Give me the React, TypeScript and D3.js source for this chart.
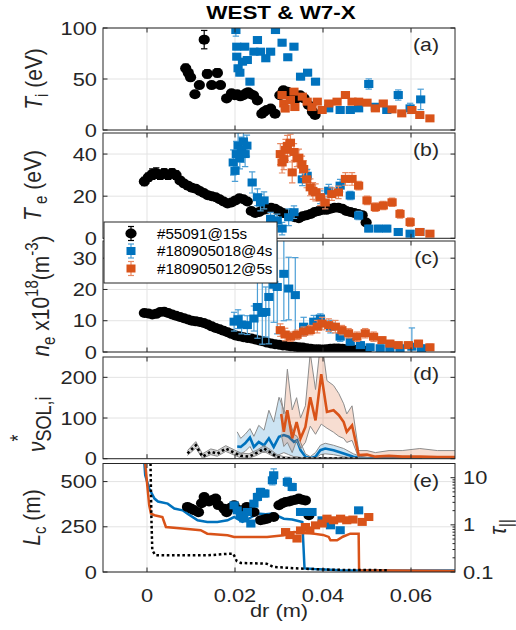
import React from 'react';
import * as d3 from 'd3';

const FONT = "'Liberation Sans', Arial, Helvetica, sans-serif";
const INK = '#262626';
const BLUE = '#0072BD';
const ORANGE = '#D95319';
const GRID = '#e3e3e3';
const S = 1.18; // horizontal text stretch seen in the reference

// ---------- ticks / labels ----------
const xTicks = [0, 0.02, 0.04, 0.06];
const xTickLabels = ['0', '0.02', '0.04', '0.06'];
const tiTicks = [0, 50, 100];
const teTicks = [0, 20, 40];
const neTicks = [0, 10, 20, 30];
const nuTicks = [0, 100, 200];
const lcTicks = [0, 250, 500];
const tauTicks = [0.1, 1, 10];
const tauTickLabels = ['0.1', '1', '10'];
const tauMinor = [0.2, 0.3, 0.4, 0.5, 0.6, 0.7, 0.8, 0.9, 2, 3, 4, 5, 6, 7, 8, 9, 20];
const legendLabels = ['#55091@15s', '#180905018@4s', '#180905012@5s'];
const panelLetters = ['(a)', '(b)', '(c)', '(d)', '(e)'];

// ---------- (a) Ti ----------
const westTi = [
  [0.0088, 60.5, 4], [0.0094, 56, 2], [0.0099, 51.6, 2], [0.0109, 35, 2], [0.0119, 44, 2], [0.0130, 88.6, 9],
  [0.0137, 55, 4], [0.0147, 44, 3], [0.0160, 56, 4], [0.0167, 44, 2], [0.0181, 31, 2], [0.0192, 36, 2],
  [0.0199, 34, 2], [0.0205, 35, 2], [0.0212, 33, 2], [0.0219, 34, 2], [0.0225, 36, 2], [0.0230, 37, 2],
  [0.0236, 35, 2], [0.0242, 34, 2], [0.0251, 29, 2], [0.0261, 16, 2], [0.0266, 18, 2], [0.0272, 19.6, 2],
  [0.0281, 21, 2], [0.0291, 16, 2], [0.0302, 34, 2], [0.0310, 39, 2], [0.0319, 37.6, 2], [0.0329, 32.7, 2],
  [0.0340, 31, 2], [0.0348, 34, 2], [0.0357, 31, 2], [0.0367, 24.5, 2], [0.0376, 18, 2], [0.0382, 14.7, 2],
];
const w7x18Ti = [
  [0.0202, 98, 6], [0.0204, 81.7, 3], [0.0204, 71.9, 3], [0.0207, 60.5, 3], [0.0211, 56.2, 3], [0.0217, 67, 3],
  [0.0222, 81.7, 3], [0.0228, 68.6, 3], [0.0234, 47.4, 3], [0.0243, 76.8, 3], [0.0251, 88.2, 3], [0.0258, 76.8, 3],
  [0.0270, 70.3, 3], [0.0281, 76.8, 3], [0.0292, 98, 3], [0.0307, 85.6, 3], [0.0320, 71.3, 3], [0.0334, 81.7, 3],
  [0.0349, 52.3, 3], [0.0365, 56.2, 3], [0.0383, 47.4, 3], [0.0413, 21.2, 2], [0.0439, 19.6, 2], [0.0462, 19.6, 2],
  [0.0481, 21.2, 2], [0.0504, 45.1, 5], [0.0519, 22.8, 2], [0.0545, 19.6, 2], [0.0571, 34.3, 5], [0.0598, 21.2, 5],
  [0.0622, 30, 10],
];
const w7x12Ti = [
  [0.0307, 34.3, 2], [0.0311, 26, 2], [0.0314, 21, 2], [0.0326, 29.4, 2], [0.0334, 37.6, 2], [0.0336, 22.5, 2],
  [0.0353, 32.7, 2], [0.0364, 27.8, 2], [0.0375, 22.5, 2], [0.0387, 27.8, 2], [0.0398, 19.6, 2], [0.0413, 26, 2],
  [0.0432, 27.8, 2], [0.0451, 34.3, 2], [0.0466, 27.8, 2], [0.0481, 27.8, 2], [0.0500, 26.8, 2], [0.0519, 21.2, 2],
  [0.0537, 26, 2], [0.0557, 20.2, 2], [0.0579, 16.3, 2], [0.0602, 19.6, 2], [0.0620, 14.7, 2], [0.0643, 11.4, 1],
];

// ---------- (b) Te ----------
const westX = [
  -0.0006, 0.0003, 0.0012, 0.0021, 0.0030, 0.0039, 0.0048, 0.0057, 0.0066, 0.0075, 0.0084, 0.0093, 0.0102, 0.0111,
  0.0120, 0.0129, 0.0138, 0.0147, 0.0156, 0.0165, 0.0174, 0.0183, 0.0192, 0.0201, 0.0210, 0.0219, 0.0228, 0.0237,
  0.0246, 0.0255, 0.0264, 0.0273, 0.0282, 0.0291, 0.0300, 0.0309, 0.0318, 0.0327, 0.0336, 0.0345, 0.0354, 0.0363,
  0.0372, 0.0381, 0.0390, 0.0399, 0.0408, 0.0417, 0.0426, 0.0435, 0.0444, 0.0453, 0.0462, 0.0471, 0.0480, 0.0489,
  0.0498,
];
const westTe = [
  27, 29, 30.5, 31, 30, 31, 30, 31, 30, 27.5, 26, 25, 24, 23.5, 22.5, 21.5, 20.5, 20, 19.5, 18.5, 17.5, 16.5, 17, 18,
  19, 18.5, 17.5, 13, 12, 12.5, 13.5, 14, 14.5, 14, 13, 12, 11.5, 11, 10, 9.5, 10.5, 11, 11.5, 12.5, 13, 13.5, 13.5,
  14, 14.5, 14.5, 14, 13, 12.5, 12, 11.5, 11, 7.5,
];
const westTeErr = [
  2, 2, 2.5, 2.5, 2, 2, 2, 2, 2, 1.5, 1.5, 1.5, 1, 1, 1, 1, 1, 1, 1, 1, 1, 1, 1, 1, 1, 1, 1, 1, 1, 1, 1, 1, 1, 1, 1,
  1, 1, 1, 1, 1, 1, 1, 1, 1, 1, 1, 1, 1, 1, 1, 1, 1, 1, 1, 1, 1, 1,
];
const w7x18Te = [
  [0.0196, 36, 6], [0.0200, 32, 5], [0.0203, 40, 6], [0.0207, 44, 6], [0.0211, 38, 5], [0.0215, 42, 6],
  [0.0219, 46, 5], [0.0223, 40, 6], [0.0227, 44, 5], [0.0239, 26.5, 5], [0.0251, 19.5, 4], [0.0258, 17, 4],
  [0.0266, 18, 4], [0.0281, 9.3, 3], [0.0296, 8.5, 3], [0.0307, 4.6, 3], [0.0322, 10, 4], [0.0334, 12.4, 3],
  [0.0353, 28, 3], [0.0364, 29.7, 3], [0.0394, 19.5, 3], [0.0413, 22.6, 3], [0.0439, 25, 3], [0.0462, 20.3, 2],
  [0.0481, 10.8, 2], [0.0504, 4.6, 1.5], [0.0526, 4.6, 1.5], [0.0545, 4.6, 1.5], [0.0571, 3, 1.5], [0.0598, 2.2, 1],
  [0.0620, 3, 1],
];
const w7x12Te = [
  [0.0303, 40, 5], [0.0307, 36, 5], [0.0311, 37.6, 5], [0.0315, 42, 5], [0.0319, 43.9, 5], [0.0326, 45.4, 4],
  [0.0330, 31.3, 5], [0.0334, 41, 4], [0.0341, 38, 4], [0.0345, 38.3, 4], [0.0352, 35, 4], [0.0356, 32.9, 4],
  [0.0363, 28, 4], [0.0371, 24.2, 4], [0.0377, 22.5, 4], [0.0383, 21.8, 4], [0.0394, 19.5, 4], [0.0405, 17, 3],
  [0.0420, 21, 3], [0.0435, 21.8, 3], [0.0451, 28.2, 3], [0.0466, 28.2, 3], [0.0481, 25, 2], [0.0500, 18, 2],
  [0.0519, 14.8, 2], [0.0537, 15.6, 2], [0.0557, 17.1, 2], [0.0575, 11.6, 2], [0.0598, 7.7, 2], [0.0620, 3, 1],
  [0.0643, 2.2, 1],
];

// ---------- (c) ne ----------
const westNe = [
  12.5, 12.3, 12.0, 12.2, 12.8, 12.9, 12.5, 12.0, 11.6, 11.2, 10.8, 10.4, 10.0, 9.8, 9.6, 9.3, 8.8, 8.2, 7.7, 7.3,
  6.8, 6.3, 5.8, 5.3, 5.0, 4.7, 4.5, 4.3, 4.0, 3.7, 3.4, 3.0, 2.7, 2.5, 2.3, 2.1, 2.0, 1.8, 1.7, 1.5, 1.4, 1.2, 1.0,
  0.9, 0.9, 0.8, 0.9, 1.0, 1.1, 1.1, 1.0, 0.9, 0.8, 0.7, 0.6, 0.5, 0.4,
];
const w7x18Ne = [
  [0.0198, 9.7, 3], [0.0207, 10.5, 3], [0.0215, 8.8, 3], [0.0228, 8.6, 3], [0.0243, 10.7, 4], [0.0251, 14.4, 10],
  [0.0262, 12.5, 10], [0.0270, 12.8, 8], [0.0277, 17.6, 15], [0.0288, 21.5, 12], [0.0296, 20.8, 15], [0.0311, 25, 15],
  [0.0322, 20.3, 10], [0.0337, 18.2, 12], [0.0356, 8.1, 3], [0.0379, 9.7, 2], [0.0394, 10.7, 1.5], [0.0417, 8.1, 2],
  [0.0439, 4.9, 1.5], [0.0462, 3.3, 1], [0.0485, 2.2, 1], [0.0507, 1.5, 1], [0.0530, 1.2, 1], [0.0552, 1.2, 1],
  [0.0575, 1.2, 1], [0.0602, 1.7, 6], [0.0624, 1.2, 1],
];
const w7x12Ne = [
  [0.0303, 7, 2], [0.0314, 5.6, 2], [0.0326, 4.9, 1.5], [0.0341, 5.5, 1.5], [0.0356, 6.5, 1.5], [0.0371, 7, 1.5],
  [0.0387, 8.1, 2], [0.0398, 9.1, 2], [0.0413, 8.6, 2], [0.0428, 8.1, 2], [0.0443, 7, 1.5], [0.0458, 6, 1.5],
  [0.0477, 4.9, 1.5], [0.0496, 6, 1.5], [0.0515, 4.9, 1.5], [0.0534, 3.8, 1], [0.0552, 2.7, 1], [0.0571, 2.2, 1],
  [0.0594, 2.2, 1], [0.0617, 2.7, 1], [0.0643, 1.5, 1],
];

// ---------- (d) collisionality ----------
const nuWestX = [0.0092, 0.0111, 0.0126, 0.0145, 0.0160, 0.0179, 0.0198, 0.0213, 0.0232, 0.0251, 0.0266, 0.0281, 0.0296, 0.0311, 0.0330, 0.0360, 0.0400, 0.0440, 0.0480];
const nuWest = [13, 33, 5, 17, 12, 25, 15, 7, 5, 15, 25, 15, 4, 1, 0.5, 0.5, 0.5, 0.5, 0.5];
const nuWestHi = [20, 42, 12, 24, 20, 32, 22, 14, 12, 22, 32, 22, 10, 5, 3, 3, 3, 3, 3];
const nuWestLo = [8, 26, 1, 10, 6, 18, 9, 2, 1, 9, 18, 9, 1, 0, 0, 0, 0, 0, 0];
const nu18X = [0.0205, 0.0213, 0.0223, 0.0234, 0.0243, 0.0254, 0.0266, 0.0277, 0.0288, 0.0300, 0.0311, 0.0322, 0.0334, 0.0341, 0.0349, 0.0360, 0.0371, 0.0383, 0.0394, 0.0405, 0.0424, 0.0447, 0.0469, 0.0485, 0.0500, 0.0550, 0.0600, 0.0625];
const nu18 = [30, 29, 38, 52, 29, 41, 33, 50, 29, 54, 58, 54, 41, 45, 21, 5, 1, 5, 21, 25, 21, 13, 5, 2, 1, 1, 1, 1];
const nu18Hi = [66, 50, 60, 74, 55, 82, 70, 119, 90, 151, 120, 100, 60, 55, 40, 12, 5, 15, 33, 38, 33, 25, 12, 6, 3, 3, 3, 3];
const nu18Lo = [10, 12, 18, 30, 12, 20, 15, 20, 5, 10, 15, 10, 5, 5, 3, 1, 0, 1, 10, 12, 10, 5, 1, 0, 0, 0, 0, 0];
const nu12X = [0.0305, 0.0311, 0.0319, 0.0330, 0.0340, 0.0349, 0.0360, 0.0371, 0.0383, 0.0396, 0.0409, 0.0424, 0.0436, 0.0447, 0.0454, 0.0466, 0.0481, 0.0500, 0.0519, 0.0550, 0.0580, 0.0620, 0.0660, 0.0700];
const nu12 = [110, 66, 119, 50, 90, 50, 78, 151, 94, 208, 115, 119, 107, 90, 66, 82, 9, 10, 5, 7, 5, 5, 4, 4];
const nu12Hi = [150, 110, 220, 120, 150, 100, 130, 260, 170, 300, 192, 180, 160, 135, 110, 130, 20, 20, 15, 20, 20, 25, 20, 20];
const nu12Lo = [60, 30, 40, 15, 45, 25, 40, 80, 60, 85, 75, 65, 55, 50, 40, 45, 2, 2, 0, 1, 0, 0, 0, 0];

// ---------- (e) connection length ----------
const westLc = [
  [0.0092, 360, 3], [0.0101, 350, 3], [0.0107, 341, 3], [0.0117, 330, 3], [0.0124, 380, 3], [0.0130, 415, 3],
  [0.0141, 390, 3], [0.0150, 400, 3], [0.0156, 406, 3], [0.0162, 370, 3], [0.0175, 350, 3], [0.0181, 330, 3],
  [0.0190, 355, 3], [0.0198, 369, 3], [0.0212, 341, 3], [0.0227, 360, 3], [0.0243, 332, 3], [0.0258, 286, 3],
  [0.0266, 290, 3], [0.0273, 295, 3], [0.0288, 304, 3], [0.0300, 369, 3], [0.0308, 380, 3], [0.0315, 387, 3],
  [0.0323, 390, 3], [0.0330, 396, 3], [0.0338, 400, 3], [0.0345, 406, 3], [0.0352, 400, 3], [0.0360, 396, 3],
  [0.0368, 314, 3],
];
const w7x18Lc = [
  [0.0198, 369, 15], [0.0205, 341, 15], [0.0212, 314, 15], [0.0220, 296, 15], [0.0228, 332, 15], [0.0236, 268, 12],
  [0.0243, 378, 15], [0.0251, 415, 20], [0.0258, 443, 20], [0.0268, 434, 20], [0.0285, 507, 25], [0.0288, 535, 35],
  [0.0319, 498, 25], [0.0330, 470, 20], [0.0349, 332, 10], [0.0362, 332, 10], [0.0375, 332, 10], [0.0398, 286, 10],
  [0.0417, 258, 10], [0.0439, 231, 10], [0.0481, 341, 10],
];
const w7x12Lc = [
  [0.0315, 221, 15], [0.0325, 204, 15], [0.0341, 185, 15], [0.0349, 230, 12], [0.0360, 249, 12], [0.0370, 230, 10],
  [0.0383, 258, 10], [0.0398, 268, 10], [0.0409, 295, 10], [0.0424, 286, 10], [0.0440, 295, 10], [0.0454, 286, 10],
  [0.0468, 290, 10], [0.0489, 277, 10], [0.0504, 304, 10],
];
const lc18Line = [
  [-0.0006, 600], [-0.0004, 535], [0.0005, 461], [0.0017, 406], [0.0025, 390], [0.0047, 378], [0.0062, 351],
  [0.0081, 341], [0.0092, 323], [0.0115, 286], [0.0137, 277], [0.0160, 277], [0.0183, 286], [0.0198, 304],
  [0.0217, 277], [0.0235, 300], [0.0251, 323], [0.0270, 320], [0.0285, 323], [0.0311, 295], [0.0330, 290],
  [0.0353, 277], [0.0358, 20], [0.0380, 16], [0.0439, 9], [0.0550, 8], [0.0700, 8],
];
const lc12Line = [
  [-0.0004, 600], [0.0002, 443], [0.0005, 369], [0.0009, 323], [0.0017, 314], [0.0035, 304], [0.0043, 249],
  [0.0080, 240], [0.0122, 231], [0.0137, 212], [0.0183, 203], [0.0198, 194], [0.0273, 194], [0.0311, 203],
  [0.0334, 221], [0.0370, 215], [0.0400, 205], [0.0413, 194], [0.0417, 175], [0.0432, 175], [0.0445, 195],
  [0.0462, 212], [0.0481, 212], [0.0482, 10], [0.0550, 8], [0.0700, 6],
];
const lcWestLine = [
  [0.0008, 600], [0.0010, 300], [0.0012, 120], [0.0019, 93], [0.0047, 92], [0.0137, 92], [0.0181, 100],
  [0.0196, 102], [0.0204, 60], [0.0213, 50], [0.0272, 46], [0.0287, 28], [0.0349, 19], [0.0424, 12], [0.0550, 10],
];

// ---------- layout ----------
const X0 = 103, X1 = 455;
const x = d3.scaleLinear().domain([-0.01, 0.07]).range([X0, X1]);
const yA = d3.scaleLinear().domain([0, 100]).range([130, 28]);
const yB = d3.scaleLinear().domain([0, 50]).range([238.3, 133]);
const yC = d3.scaleLinear().domain([0, 35.5]).range([352, 241]);
const yD = d3.scaleLinear().domain([0, 250]).range([458.7, 357]);
const yE = d3.scaleLinear().domain([0, 600]).range([572, 463.5]);
const yTau = d3.scaleLog().domain([0.1, 20]).range([572, 463.5]);

type Pt = number[];

function Txt({ x: tx, y: ty, size = 18.5, anchor = 'start', weight = 'normal', rot = false, children, fill = INK, sx = S }: any) {
  return (
    <text
      transform={`translate(${tx},${ty}) scale(${sx},1)${rot ? ' rotate(-90)' : ''}`}
      fontSize={size}
      textAnchor={anchor}
      fontWeight={weight}
      fill={fill}
      fontFamily={FONT}
    >
      {children}
    </text>
  );
}

function Grid({ y, ticks }: any) {
  const [b, t] = y.range();
  return (
    <g stroke={GRID} strokeWidth={1}>
      {xTicks.map((v) => (
        <line key={'x' + v} x1={x(v)} x2={x(v)} y1={t} y2={b} />
      ))}
      {ticks.map((v: number) => (
        <line key={'y' + v} x1={X0} x2={X1} y1={y(v)} y2={y(v)} />
      ))}
    </g>
  );
}

function Frame({ y, ticks, rightTicks = true, letter }: any) {
  const [b, t] = y.range();
  const L = 4.5;
  return (
    <g>
      <g stroke={INK} strokeWidth={1} fill="none">
        <rect x={X0} y={t} width={X1 - X0} height={b - t} />
        {xTicks.map((v) => (
          <g key={'xt' + v}>
            <line x1={x(v)} x2={x(v)} y1={b} y2={b - L} />
            <line x1={x(v)} x2={x(v)} y1={t} y2={t + L} />
          </g>
        ))}
        {ticks.map((v: number) => (
          <g key={'yt' + v}>
            <line x1={X0} x2={X0 + L} y1={y(v)} y2={y(v)} />
            {rightTicks && <line x1={X1} x2={X1 - L} y1={y(v)} y2={y(v)} />}
          </g>
        ))}
      </g>
      {ticks.map((v: number) => (
        <Txt key={'yl' + v} x={97} y={y(v) + 6.6} anchor="end">
          {String(v)}
        </Txt>
      ))}
      <Txt x={439} y={t + 23} anchor="end" size={18}>
        {letter}
      </Txt>
    </g>
  );
}

function Points({ pts, y, color, shape, errColor, clip }: any) {
  const cap = 3.2;
  return (
    <g clipPath={`url(#${clip})`}>
      <g stroke={errColor} strokeWidth={1.2}>
        {pts.map((p: Pt, i: number) => {
          const cx = x(p[0]);
          const y1 = y(p[1] - p[2]);
          const y2 = y(p[1] + p[2]);
          return (
            <g key={i}>
              <line x1={cx} x2={cx} y1={y1} y2={y2} />
              <line x1={cx - cap} x2={cx + cap} y1={y1} y2={y1} />
              <line x1={cx - cap} x2={cx + cap} y1={y2} y2={y2} />
            </g>
          );
        })}
      </g>
      <g fill={color}>
        {pts.map((p: Pt, i: number) =>
          shape === 'circle' ? (
            <ellipse key={i} cx={x(p[0])} cy={y(p[1])} rx={5.6} ry={5} />
          ) : (
            <rect key={i} x={x(p[0]) - 4.6} y={y(p[1]) - 4} width={9.2} height={8} />
          )
        )}
      </g>
    </g>
  );
}

function Band({ xs, mid, hi, lo, y, fill, line, dashed, clip }: any) {
  const idx = xs.map((_: number, i: number) => i);
  const area = d3
    .area<number>()
    .x((i) => x(xs[i]))
    .y0((i) => y(lo[i]))
    .y1((i) => y(hi[i]));
  const l = (arr: number[]) =>
    d3
      .line<number>()
      .x((i) => x(xs[i]))
      .y((i) => y(arr[i]))(idx) as string;
  return (
    <g clipPath={`url(#${clip})`}>
      <path d={area(idx) as string} fill={fill} stroke="none" />
      <path d={l(hi)} fill="none" stroke="#8c8c8c" strokeWidth={1} />
      <path d={l(lo)} fill="none" stroke="#8c8c8c" strokeWidth={1} />
      <path
        d={l(mid)}
        fill="none"
        stroke={line}
        strokeWidth={2.6}
        strokeDasharray={dashed ? '2.6 2.6' : undefined}
      />
    </g>
  );
}

function LcLine({ pts, color, dashed }: any) {
  const d = d3
    .line<number[]>()
    .x((p) => x(p[0]))
    .y((p) => yE(p[1]))(pts) as string;
  return (
    <path d={d} fill="none" stroke={color} strokeWidth={2.5} strokeDasharray={dashed ? '2.6 2.6' : undefined} />
  );
}

export default function App() {
  const westTePts = westX.map((v, i) => [v, westTe[i], westTeErr[i]]);
  const westNePts = westX.map((v, i) => [v, westNe[i], 0.4]);
  const clips = [
    ['clipA', yA],
    ['clipB', yB],
    ['clipC', yC],
    ['clipD', yD],
    ['clipE', yE],
  ] as any[];
  const errB = '#4c9fd6';
  const errO = '#e88a63';
  return (
    <svg width={516} height={630} style={{ position: 'absolute', left: 0, top: 0, background: '#fff' }}>
      <defs>
        {clips.map(([id, y]) => {
          const [b, t] = y.range();
          return (
            <clipPath id={id} key={id}>
              <rect x={X0} y={t} width={X1 - X0} height={b - t} />
            </clipPath>
          );
        })}
      </defs>
      <rect width={516} height={630} fill="#fff" />
      <Txt x={281} y={19} anchor="middle" size={19} weight="bold" fill="#000">
        WEST &amp; W7-X
      </Txt>

      {/* (a) */}
      <Grid y={yA} ticks={tiTicks} />
      <Points pts={westTi} y={yA} color="#000" errColor="#000" shape="circle" clip="clipA" />
      <Points pts={w7x18Ti} y={yA} color={BLUE} errColor={errB} shape="square" clip="clipA" />
      <Points pts={w7x12Ti} y={yA} color={ORANGE} errColor={errO} shape="square" clip="clipA" />
      <Frame y={yA} ticks={tiTicks} letter={panelLetters[0]} />
      <Txt x={42} y={79} rot anchor="middle" size={21}>
        <tspan fontStyle="italic">T</tspan>
        <tspan fontSize={15} dy={5}>i</tspan>
        <tspan dy={-5}> (eV)</tspan>
      </Txt>

      {/* (b) */}
      <Grid y={yB} ticks={teTicks} />
      <Points pts={westTePts} y={yB} color="#000" errColor="#000" shape="circle" clip="clipB" />
      <Points pts={w7x18Te} y={yB} color={BLUE} errColor={errB} shape="square" clip="clipB" />
      <Points pts={w7x12Te} y={yB} color={ORANGE} errColor={errO} shape="square" clip="clipB" />
      <Frame y={yB} ticks={teTicks} letter={panelLetters[1]} />
      <Txt x={41} y={185.5} rot anchor="middle" size={21}>
        <tspan fontStyle="italic">T</tspan>
        <tspan fontSize={15} dy={5}> e</tspan>
        <tspan dy={-5}> (eV)</tspan>
      </Txt>

      {/* (c) */}
      <Grid y={yC} ticks={neTicks} />
      <Points pts={westNePts} y={yC} color="#000" errColor="#000" shape="circle" clip="clipC" />
      <Points pts={w7x18Ne} y={yC} color={BLUE} errColor={errB} shape="square" clip="clipC" />
      <Points pts={w7x12Ne} y={yC} color={ORANGE} errColor={errO} shape="square" clip="clipC" />
      <Frame y={yC} ticks={neTicks} letter={panelLetters[2]} />
      <Txt x={49} y={296} rot anchor="middle" size={21}>
        <tspan fontStyle="italic">n</tspan>
        <tspan fontSize={15} dy={5}>e</tspan>
        <tspan dy={-5}> x10</tspan>
        <tspan fontSize={15} dy={-9}>18</tspan>
        <tspan dy={9}>(m</tspan>
        <tspan fontSize={15} dy={-9}>-3</tspan>
        <tspan dy={9}>)</tspan>
      </Txt>

      {/* legend */}
      <g>
        <rect x={104} y={222} width={173} height={61} fill="#fff" stroke={INK} strokeWidth={1} />
        {legendLabels.map((lab, i) => {
          const cy = 233.5 + i * 17.5;
          const col = i === 0 ? '#000' : i === 1 ? BLUE : ORANGE;
          const ec = i === 0 ? '#000' : i === 1 ? errB : errO;
          return (
            <g key={lab}>
              <g stroke={ec} strokeWidth={1.2}>
                <line x1={131} x2={131} y1={cy - 7} y2={cy + 7} />
                <line x1={128} x2={134} y1={cy - 7} y2={cy - 7} />
                <line x1={128} x2={134} y1={cy + 7} y2={cy + 7} />
              </g>
              {i === 0 ? (
                <ellipse cx={131} cy={cy} rx={5.6} ry={5} fill={col} />
              ) : (
                <rect x={126.5} y={cy - 4} width={9} height={8} fill={col} />
              )}
              <Txt x={157} y={cy + 5} size={14} sx={1.08} fill="#000">
                {lab}
              </Txt>
            </g>
          );
        })}
      </g>

      {/* (d) */}
      <Grid y={yD} ticks={nuTicks} />
      <Band xs={nu18X} mid={nu18} hi={nu18Hi} lo={nu18Lo} y={yD} fill="rgba(0,114,189,0.2)" line={BLUE} clip="clipD" />
      <Band xs={nu12X} mid={nu12} hi={nu12Hi} lo={nu12Lo} y={yD} fill="rgba(217,83,25,0.2)" line={ORANGE} clip="clipD" />
      <Band xs={nuWestX} mid={nuWest} hi={nuWestHi} lo={nuWestLo} y={yD} fill="rgba(128,128,128,0.35)" line="#000" dashed clip="clipD" />
      <Frame y={yD} ticks={nuTicks} letter={panelLetters[3]} />
      <Txt x={45} y={452} rot anchor="start" size={21}>
        <tspan fontStyle="italic">ν</tspan>
        <tspan fontSize={18} dy={-17}>*</tspan>
        <tspan fontSize={18} dx={-7} dy={22}>SOL,i</tspan>
      </Txt>

      {/* (e) */}
      <Grid y={yE} ticks={lcTicks} />
      <g clipPath="url(#clipE)">
        <LcLine pts={lc18Line} color={BLUE} />
        <LcLine pts={lc12Line} color={ORANGE} />
        <LcLine pts={lcWestLine} color="#000" dashed />
      </g>
      <Points pts={westLc} y={yE} color="#000" errColor="#000" shape="circle" clip="clipE" />
      <Points pts={w7x18Lc} y={yE} color={BLUE} errColor={errB} shape="square" clip="clipE" />
      <Points pts={w7x12Lc} y={yE} color={ORANGE} errColor={errO} shape="square" clip="clipE" />
      <Frame y={yE} ticks={lcTicks} rightTicks={false} letter={panelLetters[4]} />
      <g stroke={INK} strokeWidth={1}>
        {tauTicks.map((v) => (
          <line key={'tm' + v} x1={X1} x2={X1 - 4.5} y1={yTau(v)} y2={yTau(v)} />
        ))}
        {tauMinor.map((v) => (
          <line key={'tn' + v} x1={X1} x2={X1 - 2.5} y1={yTau(v)} y2={yTau(v)} />
        ))}
      </g>
      {tauTicks.map((v, i) => (
        <Txt key={'tl' + v} x={463} y={yTau(v) + 6.6} anchor="start">
          {tauTickLabels[i]}
        </Txt>
      ))}
      <Txt x={40} y={517.5} rot anchor="middle" size={21}>
        <tspan fontStyle="italic">L</tspan>
        <tspan fontSize={15} dy={5}>c</tspan>
        <tspan dy={-5}> (m)</tspan>
      </Txt>
      <Txt x={506} y={527} rot anchor="middle" size={21}>
        <tspan fontStyle="italic">τ</tspan>
        <tspan fontSize={15} dy={5}>||</tspan>
      </Txt>

      {xTicks.map((v, i) => (
        <Txt key={'xl' + v} x={x(v)} y={601.5} anchor="middle">
          {xTickLabels[i]}
        </Txt>
      ))}
      <Txt x={279} y={617} anchor="middle" size={18.5}>
        dr (m)
      </Txt>
    </svg>
  );
}
